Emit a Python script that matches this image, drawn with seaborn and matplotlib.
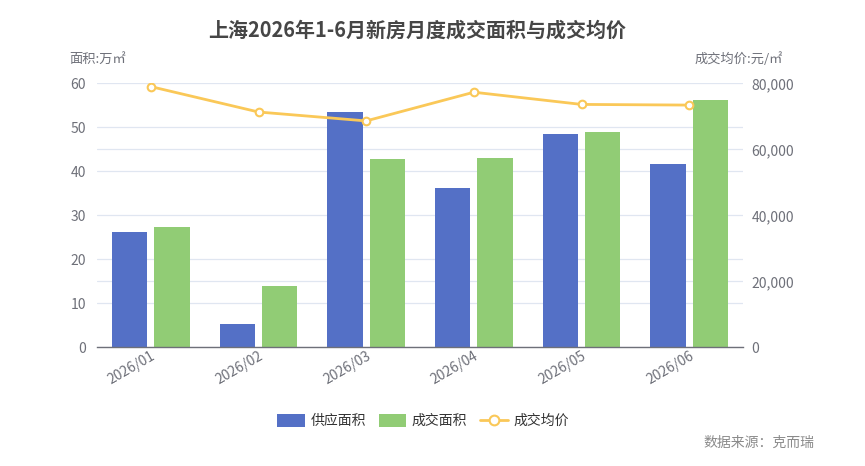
import matplotlib
matplotlib.use("Agg")
import matplotlib.pyplot as plt
import seaborn as sns
import pandas as pd
import numpy as np
from matplotlib.patches import Patch
from matplotlib.lines import Line2D
from matplotlib.ticker import FuncFormatter

months = ["2026/01", "2026/02", "2026/03", "2026/04", "2026/05", "2026/06"]
supply = [26.3, 5.2, 53.5, 36.2, 48.5, 41.7]
deal = [27.4, 13.9, 42.9, 43.1, 48.9, 56.1]
price = [79000, 71300, 68600, 77300, 73600, 73400]
series_names = ["供应面积", "成交面积", "成交均价"]
title = "上海2026年1-6月新房月度成交面积与成交均价"
left_name = "面积:万㎡"
right_name = "成交均价:元/㎡"
source = "数据来源：克而瑞"

BLUE = "#5470c6"
GREEN = "#91cc75"
YELLOW = "#fac858"
GRAY = "#6e7079"
GRID = "#e0e6f1"

sns.set_style("white")
plt.rcParams['font.family'] = ['Noto Sans CJK SC', 'DejaVu Sans']

df = pd.DataFrame({
    "month": months * 2,
    "value": supply + deal,
    "series": [series_names[0]] * len(months) + [series_names[1]] * len(months),
})

fig = plt.figure(figsize=(8.65, 4.66), dpi=100)
ax = fig.add_axes([97 / 865, 118.7 / 466, (743 - 97) / 865, (347.3 - 83.3) / 466])

sns.barplot(data=df, x="month", y="value", hue="series", order=months,
            hue_order=series_names[:2], palette=[BLUE, GREEN],
            width=0.786, gap=0.158, linewidth=0, saturation=1, ax=ax, legend=False, zorder=2)

ax.set_ylim(0, 60)
ax.set_xlim(-0.5, len(months) - 0.5)
ax.set_yticks(np.arange(0, 61, 10))
ax.set_yticks([15, 30, 45], minor=True)
ax.grid(axis="y", which="both", color=GRID, linewidth=0.9, zorder=0)
ax.set_axisbelow(True)
ax.tick_params(axis="y", which="both", length=0, labelsize=10, colors=GRAY, pad=8)
ax.set_xlabel("")
ax.set_ylabel("")
for s in ["left", "right", "top"]:
    ax.spines[s].set_visible(False)
ax.spines["bottom"].set_color(GRAY)
ax.spines["bottom"].set_linewidth(1)

ax.set_xticks(np.arange(len(months)))
ax.set_xticks(np.arange(-0.5, len(months)), minor=True)
ax.tick_params(axis="x", which="major", length=0, labelsize=10, colors=GRAY, pad=1)
ax.tick_params(axis="x", which="minor", length=5, color=GRAY, width=1)
ax.set_xticklabels(months, rotation=30, ha="right", rotation_mode="anchor")

ax2 = ax.twinx()
sns.lineplot(x=np.arange(len(months)), y=price, ax=ax2, color=YELLOW, linewidth=2,
             marker="o", markersize=5.5, markerfacecolor="white",
             markeredgecolor=YELLOW, markeredgewidth=1.5, zorder=5)
ax2.set_ylim(0, 80000)
ax2.set_yticks(np.arange(0, 80001, 20000))
ax2.yaxis.set_major_formatter(FuncFormatter(lambda v, p: f"{int(v):,}"))
ax2.tick_params(axis="y", length=0, labelsize=10, colors=GRAY, pad=6)
for s in ["left", "right", "top", "bottom"]:
    ax2.spines[s].set_visible(False)
ax2.set_ylabel("")

fig.text(417 / 865, 1 - 30 / 466, title, ha="center", va="center",
         fontsize=14.4, fontweight="bold", color="#464646")
fig.text(69 / 865, 1 - 59 / 466, left_name, ha="left", va="center", fontsize=9.5, color=GRAY)
fig.text(783 / 865, 1 - 59 / 466, right_name, ha="right", va="center", fontsize=9.5, color=GRAY)
fig.text(814 / 865, 1 - 443 / 466, source, ha="right", va="center", fontsize=10, color="#8a8a8a")

handles = [
    Patch(facecolor=BLUE, edgecolor="none"),
    Patch(facecolor=GREEN, edgecolor="none"),
    Line2D([0], [0], color=YELLOW, linewidth=2, marker="o", markersize=7,
           markerfacecolor="white", markeredgecolor=YELLOW, markeredgewidth=1.5),
]
fig.legend(handles, series_names, loc="center", bbox_to_anchor=(423 / 865, 1 - 421 / 466),
           ncol=3, frameon=False, fontsize=10, handlelength=2.0, handleheight=1.1,
           handletextpad=0.4, columnspacing=0.9, labelcolor="#333333")

fig.savefig("out.png", dpi=100)
